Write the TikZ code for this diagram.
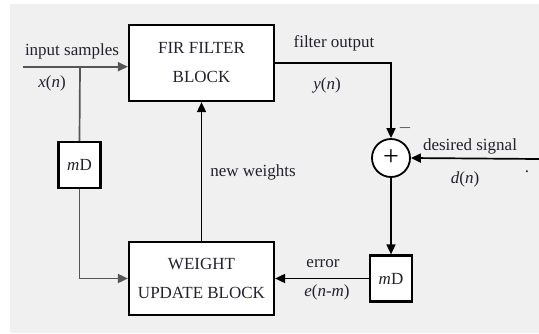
\documentclass[tikz,border=0pt]{standalone}
\usepackage{fontspec}
\setmainfont{Liberation Serif}
\usetikzlibrary{arrows.meta,positioning}
\definecolor{bgGray}{HTML}{F0F0F0}
\definecolor{lnGray}{HTML}{555555}
\definecolor{txDark}{HTML}{22222E}
\tikzset{
  blk/.style={draw, line width=2.2pt, fill=white, minimum width=145pt, align=center,
    text=txDark, font=\fontsize{17}{29}\selectfont},
  delay/.style={draw, line width=2.2pt, fill=white, minimum width=42pt, minimum height=46pt,
    text=txDark, font=\fontsize{17}{20}\selectfont},
  lbl/.style={font=\fontsize{17}{20}\selectfont, text=txDark, inner sep=0pt},
}
\begin{document}
\begin{tikzpicture}[x=1pt, y=-1pt, line width=1.7pt,
  sumnode/.style={circle, draw, line width=1.8pt, fill=white, minimum size=38pt, inner sep=0pt,
    font=\fontsize{28}{28}\selectfont},
  >={Triangle[length=10pt,width=9pt]}]
\useasboundingbox (0,0) rectangle (539,333);
\fill[bgGray] (10,4) rectangle (539,333);
\node[blk, minimum height=76pt] (fir) at (201.5,63) {FIR FILTER\\BLOCK};
\node[blk, minimum height=73pt] (wu) at (201.5,278.5) {WEIGHT\\UPDATE BLOCK};
\node[delay] (mdl) at (79.5,165) {\textit{m}D};
\node[delay] (mdr) at (391,278.5) {\textit{m}D};
\node[sumnode] (sum) at (391,158) {+};
\coordinate (in) at (23,66.7);
\coordinate (br) at (80,66.7);
\coordinate (ds) at (539,159);
% signal paths
\draw[->, lnGray] (in) -- (fir.west |- in);
\draw[lnGray] (br) -- (mdl.north);
\draw[->, lnGray] (mdl.south) |- (wu.west);
\draw[->] (wu.north) -- (fir.south);
\draw[->] (fir.east) -| (sum.north);
\draw[->] (ds) -- (sum.east);
\draw[->] (sum.south) -- (mdr.north);
\draw[->] (mdr.west) -- (wu.east);
% labels
\node[lbl] (lin) at (72,51) {input samples};
\node[lbl] (lx) at (52,83) {\textit{x}(\textit{n})};
\node[lbl] (lnw) at (253,172) {new weights};
\node[lbl] (lout) at (334,43) {filter output};
\node[lbl] (ly) at (327,85) {\textit{y}(\textit{n})};
\node[lbl] (lneg) at (405,128) {$-$};
\node[lbl] (lds) at (470,146) {desired signal};
\node[lbl] (ld) at (465,179) {\textit{d}(\textit{n})};
\node[lbl] (ldot) at (527,172) {.};
\node[lbl] (lerr) at (323,264) {error};
\node[lbl] (le) at (327,292) {\textit{e}(\textit{n}-\textit{m})};
\end{tikzpicture}
\end{document}
